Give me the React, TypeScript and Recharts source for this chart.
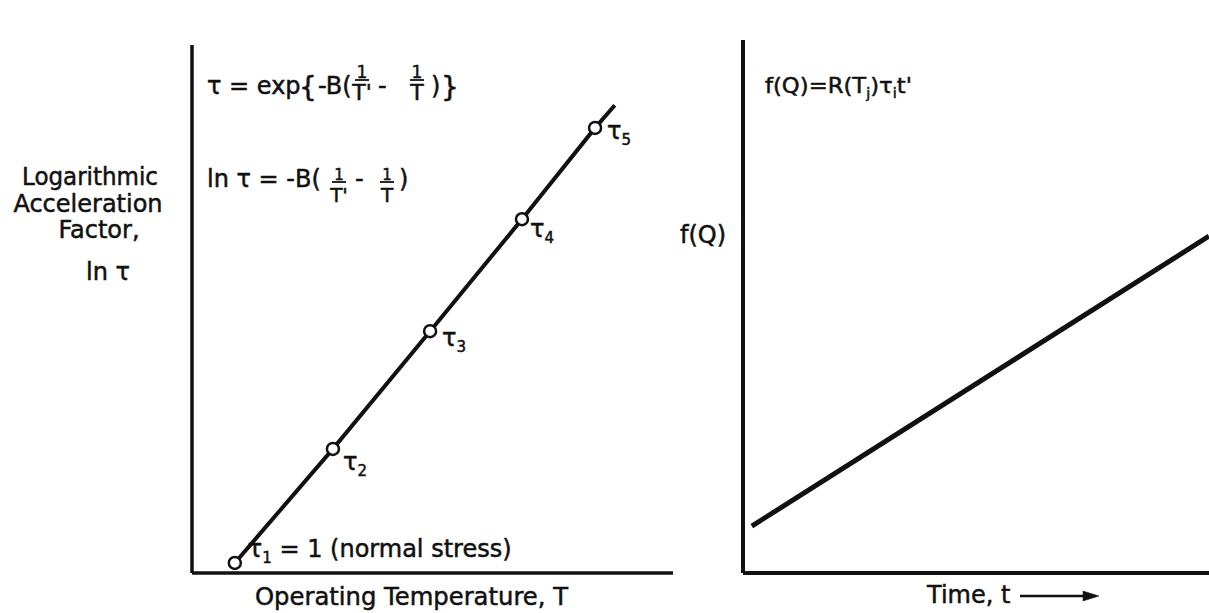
import React from "react";
import { LineChart, Line, XAxis, YAxis, ReferenceLine, Customized } from "recharts";

const W = 1209;
const H = 613;
const INK = "#111";
const FONT = "'DejaVu Sans', sans-serif";

// left panel: ln(acceleration factor) against operating temperature
const temperature = [8.9, 29.3, 49.5, 68.6, 83.8, 87.9];
const lnTau = [1.9, 23.5, 45.8, 67.0, 84.3, 88.6];
const tauIndex = ["1", "2", "3", "4", "5", ""]; // last point is the line end, no marker

// right panel: f(Q) against time
const time = [1.9, 100];
const fQ = [8.8, 63.2];

const arrheniusData = temperature.map((t, i) => ({ t, lnTau: lnTau[i], idx: tauIndex[i] }));
const damageData = time.map((t, i) => ({ t, fQ: fQ[i] }));

// label placement next to each τ marker (dx, dy from the circle centre)
const labelOffset: Record<string, [number, number]> = {
  "1": [13, -6],
  "2": [10, 21],
  "3": [12, 15],
  "4": [8, 18],
  "5": [12, 11],
};

const textInk = { fill: INK, stroke: INK, strokeWidth: 0.5, fontFamily: FONT };

const TauMarker = (props: any) => {
  const { cx, cy, payload, index } = props;
  if (!payload.idx) return <g key={`end-${index}`} />;
  const [dx, dy] = labelOffset[payload.idx];
  return (
    <g key={`tau-${payload.idx}`}>
      <circle cx={cx} cy={cy} r={6} fill="#fff" stroke={INK} strokeWidth={2.5} />
      <text x={cx + dx} y={cy + dy} fontSize={24} {...textInk}>
        τ
        <tspan fontSize={15} dy={6}>
          {payload.idx}
        </tspan>
        {payload.idx === "1" && <tspan dy={-6}> = 1 (normal stress)</tspan>}
      </text>
    </g>
  );
};

// stacked 1/T fraction, centred on x, bar at y
const Frac = ({ x, y, den, big }: { x: number; y: number; den: string; big?: boolean }) => (
  <g {...textInk}>
    <text x={x} y={y - 2} fontSize={big ? 17 : 15} textAnchor="middle">
      1
    </text>
    <line x1={x - 7} x2={x + 7} y1={y} y2={y} stroke={INK} strokeWidth={1.8} />
    <text x={x} y={y + 20} fontSize={big ? 22 : 20} textAnchor="middle">
      {den}
    </text>
  </g>
);

const LeftNotes = () => (
  <g {...textInk}>
    {/* y-axis title */}
    <g fontSize={24} textAnchor="middle">
      <text x={90} y={185} textLength={136} lengthAdjust="spacingAndGlyphs">
        Logarithmic
      </text>
      <text x={88} y={212}>Acceleration</text>
      <text x={99} y={238}>Factor,</text>
      <text x={108} y={280}>ln τ</text>
    </g>

    {/* τ = exp{-B(1/T' - 1/T)} */}
    <text x={207} y={94} fontSize={24}>
      τ = exp
    </text>
    <text x={299} y={97} fontSize={28}>
      {"{"}
    </text>
    <text x={318} y={94} fontSize={24}>
      -B(
    </text>
    <Frac x={362} y={80} den="T'" big />
    <text x={378} y={94} fontSize={24}>
      -
    </text>
    <Frac x={417} y={80} den="T" big />
    <text x={431} y={94} fontSize={24}>
      )
    </text>
    <text x={441} y={97} fontSize={28}>
      {"}"}
    </text>

    {/* ln τ = -B(1/T' - 1/T) */}
    <text x={207} y={187} fontSize={24}>
      ln τ = -B(
    </text>
    <Frac x={339} y={182} den="T'" />
    <text x={355} y={187} fontSize={24}>
      -
    </text>
    <Frac x={387} y={182} den="T" />
    <text x={399} y={187} fontSize={24}>
      )
    </text>

    {/* x-axis title */}
    <text x={255} y={605} fontSize={24} textLength={313} lengthAdjust="spacingAndGlyphs">
      Operating Temperature, T
    </text>
  </g>
);

const RightNotes = () => (
  <g {...textInk}>
    <text x={765} y={93} fontSize={22} textLength={147} lengthAdjust="spacingAndGlyphs">
      f(Q)=R(T
      <tspan fontSize={14} dy={5}>
        j
      </tspan>
      <tspan dy={-5}>)τ</tspan>
      <tspan fontSize={14} dy={5}>
        i
      </tspan>
      <tspan dy={-5}>t'</tspan>
    </text>
    <text x={680} y={243} fontSize={24}>
      f(Q)
    </text>
    <text x={927} y={603} fontSize={24}>
      Time, t
    </text>
    <line x1={1020} x2={1086} y1={596} y2={596} stroke={INK} strokeWidth={2.5} />
    <polygon points="1083,591 1099,596 1083,601" fill={INK} />
  </g>
);

export default function App() {
  return (
    <div style={{ position: "absolute", left: 0, top: 0, width: W, height: H, background: "#fff" }}>
      <div style={{ position: "absolute", left: 0, top: 0 }}>
        <LineChart
          width={W}
          height={H}
          data={arrheniusData}
          margin={{ top: 45, left: 192, right: 536, bottom: 40 }}
        >
          <XAxis type="number" dataKey="t" domain={[0, 100]} hide />
          <YAxis type="number" domain={[0, 100]} hide />
          {/* axis frame */}
          <ReferenceLine x={0} stroke={INK} strokeWidth={3.5} />
          <ReferenceLine y={0} stroke={INK} strokeWidth={3.5} />
          <Line
            type="linear"
            dataKey="lnTau"
            stroke={INK}
            strokeWidth={4}
            dot={TauMarker}
            activeDot={false}
            isAnimationActive={false}
          />
          <Customized component={LeftNotes} />
        </LineChart>
      </div>
      <div style={{ position: "absolute", left: 0, top: 0 }}>
        <LineChart
          width={W}
          height={H}
          data={damageData}
          margin={{ top: 40, left: 743, right: 0, bottom: 40 }}
        >
          <XAxis type="number" dataKey="t" domain={[0, 100]} hide />
          <YAxis type="number" domain={[0, 100]} hide />
          <ReferenceLine x={0} stroke={INK} strokeWidth={4} />
          <ReferenceLine y={0} stroke={INK} strokeWidth={4} />
          <Line
            type="linear"
            dataKey="fQ"
            stroke={INK}
            strokeWidth={5}
            dot={false}
            activeDot={false}
            isAnimationActive={false}
          />
          <Customized component={RightNotes} />
        </LineChart>
      </div>
    </div>
  );
}
